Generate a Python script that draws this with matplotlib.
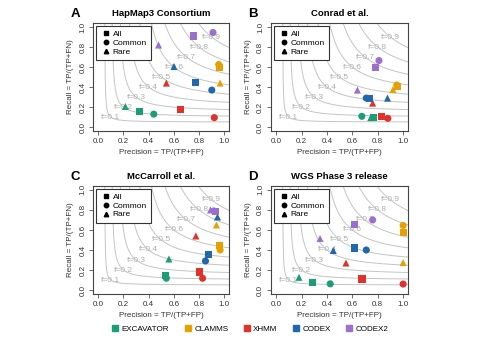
import numpy as np
import matplotlib
matplotlib.use("Agg")
import matplotlib.pyplot as plt
from matplotlib.lines import Line2D

plt.rcParams['font.family'] = ['Liberation Sans', 'DejaVu Sans']

methods = ['EXCAVATOR', 'CLAMMS', 'XHMM', 'CODEX', 'CODEX2']
colors = ['#1b9e77', '#e6a000', '#e0312b', '#2167ad', '#9b6fcf']
kinds = ['All', 'Common', 'Rare']
markers = ['s', 'o', '^']
f_levels = [0.1, 0.2, 0.3, 0.4, 0.5, 0.6, 0.7, 0.8, 0.9]

panel_letters = ['A', 'B', 'C', 'D']
panel_titles = ['HapMap3 Consortium', 'Conrad et al.', 'McCarroll et al.', 'WGS Phase 3 release']

# precision / recall per method, columns = All, Common, Rare
hapmap_prec = [[0.33, 0.44, 0.215], [0.96, 0.955, 0.966], [0.65, 0.92, 0.54], [0.77, 0.90, 0.60], [0.756, 0.91, 0.478]]
hapmap_rec = [[0.157, 0.13, 0.206], [0.60, 0.625, 0.44], [0.18, 0.095, 0.44], [0.445, 0.37, 0.605], [0.91, 0.945, 0.82]]

conrad_prec = [[0.77, 0.675, 0.745], [0.955, 0.95, 0.92], [0.833, 0.88, 0.76], [0.735, 0.71, 0.877], [0.78, 0.81, 0.64]]
conrad_rec = [[0.095, 0.108, 0.095], [0.41, 0.42, 0.375], [0.11, 0.088, 0.24], [0.29, 0.29, 0.29], [0.60, 0.665, 0.37]]

mccarroll_prec = [[0.535, 0.54, 0.56], [0.958, 0.966, 0.937], [0.80, 0.827, 0.774], [0.876, 0.85, 0.945], [0.93, 0.915, 0.89]]
mccarroll_rec = [[0.145, 0.118, 0.31], [0.445, 0.40, 0.65], [0.18, 0.118, 0.54], [0.354, 0.29, 0.73], [0.785, 0.79, 0.80]]

wgs_prec = [[0.287, 0.426, 0.18], [1.0, 1.0, 1.0], [0.676, 1.0, 0.55], [0.62, 0.71, 0.45], [0.62, 0.76, 0.346]]
wgs_rec = [[0.078, 0.062, 0.127], [0.575, 0.645, 0.275], [0.11, 0.06, 0.27], [0.42, 0.40, 0.395], [0.65, 0.70, 0.515]]

precisions = [hapmap_prec, conrad_prec, mccarroll_prec, wgs_prec]
recalls = [hapmap_rec, conrad_rec, mccarroll_rec, wgs_rec]

fig = plt.figure(figsize=(4.78, 3.38), dpi=100)
positions = [[0.195, 0.612, 0.285, 0.320], [0.567, 0.612, 0.287, 0.320],
             [0.195, 0.130, 0.285, 0.320], [0.567, 0.130, 0.287, 0.320]]

# F-measure grid for the background curves
pp, rr = np.meshgrid(np.linspace(0.001, 1.06, 400), np.linspace(0.001, 1.06, 400))
ff = 2 * pp * rr / (pp + rr)

for i in range(4):
    ax = fig.add_axes(positions[i])
    ax.contour(pp, rr, ff, levels=f_levels, colors='#c4c4c4', linewidths=0.7, zorder=1)
    for f in f_levels:
        ax.text(f, f, 'f=%.1f' % f, color='#adadad', fontsize=6, ha='center', va='center', zorder=2)

    for m in range(len(methods)):
        for k in range(3):
            ax.scatter(precisions[i][m][k], recalls[i][m][k], marker=markers[k], s=26,
                       color=colors[m], edgecolors='none', zorder=3)

    ax.set_xlim(-0.04, 1.04)
    ax.set_ylim(-0.04, 1.04)
    ticks = [0.0, 0.2, 0.4, 0.6, 0.8, 1.0]
    ax.set_xticks(ticks)
    ax.set_yticks(ticks)
    ax.set_xticklabels(['%.1f' % t for t in ticks], fontsize=5.8, color='#333333')
    ax.set_yticklabels(['%.1f' % t for t in ticks], fontsize=5.8, color='#333333', rotation=90, va='center')
    ax.tick_params(length=3, width=0.6, color='#555555', pad=2)
    for sp in ax.spines.values():
        sp.set_linewidth(0.8)
        sp.set_color('#444444')
    ax.set_xlabel('Precision = TP/(TP+FP)', fontsize=5.8, color='#333333', labelpad=3)
    ax.set_ylabel('Recall = TP/(TP+FN)', fontsize=5.8, color='#333333', labelpad=4)
    ax.set_title(panel_titles[i], fontsize=6.8, fontweight='bold', pad=5)
    ax.text(-0.13, 1.03, panel_letters[i], transform=ax.transAxes, fontsize=9.5,
            fontweight='bold', ha='center', va='bottom')

    handles = [Line2D([], [], marker=mk, color='black', linestyle='none', markersize=3.2) for mk in markers]
    leg = ax.legend(handles, kinds, loc='upper left', fontsize=6, handletextpad=0.2,
                    handlelength=1.3, borderpad=0.5, labelspacing=0.12, fancybox=False,
                    framealpha=1, edgecolor='#333333', borderaxespad=0.35)
    leg.get_frame().set_linewidth(0.8)

method_handles = [Line2D([], [], marker='s', color=c, linestyle='none', markersize=4.3) for c in colors]
fig.legend(method_handles, methods, loc='center', bbox_to_anchor=(0.523, 0.027), ncol=5,
           frameon=False, fontsize=5.8, handletextpad=0.3, columnspacing=1.8, handlelength=1.0)

fig.savefig('out.png', dpi=100)
